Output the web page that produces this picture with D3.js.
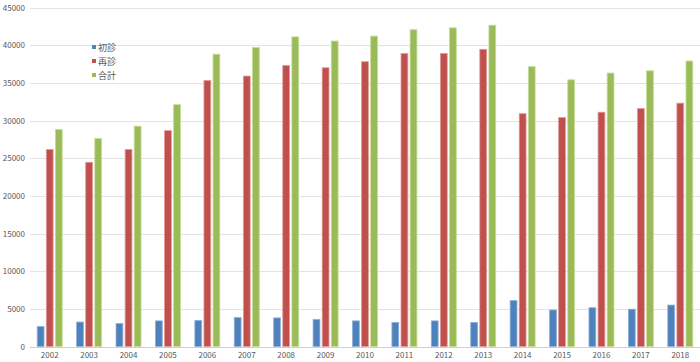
<!DOCTYPE html>
<html>
<head>
<meta charset="utf-8">
<script src="https://cdn.jsdelivr.net/npm/d3@7"></script>
<style>
  body { margin: 0; background: #fff; }
  text { font-family: "Noto Sans CJK JP", "Noto Sans", sans-serif; fill: #595959; }
</style>
</head>
<body>
<svg id="chart" width="700" height="362"></svg>
<script>
const years = ["2002","2003","2004","2005","2006","2007","2008","2009","2010","2011","2012","2013","2014","2015","2016","2017","2018"];
const seriesNames = ["初診", "再診", "合計"];
const firstVisit = [2650, 3250, 3050, 3400, 3450, 3850, 3800, 3600, 3400, 3200, 3400, 3200, 6100, 4850, 5150, 4950, 5500];
const revisit = [26150, 24450, 26150, 28650, 35300, 35900, 37300, 37000, 37800, 38900, 38900, 39450, 30900, 30400, 31100, 31600, 32300];
const total = [28800, 27600, 29250, 32100, 38800, 39700, 41100, 40550, 41200, 42050, 42300, 42650, 37150, 35400, 36300, 36600, 37900];
const yTicks = [0, 5000, 10000, 15000, 20000, 25000, 30000, 35000, 40000, 45000];
const colors = ["#4f81bd", "#c0504d", "#9bbb59"];
const strokes = ["#8fb0d9", "#e09a98", "#c6dc9b"];

const values = [firstVisit, revisit, total];
const data = years.map((y, i) => ({ year: y, vals: values.map(v => v[i]) }));

const svg = d3.select("#chart");

const x0 = d3.scaleBand().domain(years).range([30, 700]).padding(0);
const x1 = d3.scaleBand().domain(d3.range(3)).range([-12.5, 12.5]).paddingInner(0.25);
const y = d3.scaleLinear().domain([0, 45000]).range([346.5, 7.5]);

// gridlines
svg.append("g")
  .selectAll("line")
  .data(yTicks)
  .join("line")
  .attr("x1", 30)
  .attr("x2", 700)
  .attr("y1", d => Math.round(y(d)) + 0.5)
  .attr("y2", d => Math.round(y(d)) + 0.5)
  .attr("stroke", d => d === 0 ? "#d0d0d0" : "#e3e3e3")
  .attr("stroke-width", 1);

// y labels
svg.append("g")
  .selectAll("text")
  .data(yTicks)
  .join("text")
  .attr("x", 25)
  .attr("y", d => y(d) + 3)
  .attr("text-anchor", "end")
  .style("font-size", "8px")
  .text(d => d);

// bars
const groups = svg.append("g")
  .selectAll("g")
  .data(data)
  .join("g")
  .attr("transform", d => `translate(${x0(d.year) + x0.bandwidth() / 2},0)`);

groups.selectAll("rect")
  .data(d => d.vals.map((v, k) => ({ k, v })))
  .join("rect")
  .attr("x", d => x1(d.k))
  .attr("width", x1.bandwidth())
  .attr("y", d => y(d.v))
  .attr("height", d => y(0) - y(d.v))
  .attr("fill", d => colors[d.k])
  .attr("stroke", d => strokes[d.k])
  .attr("stroke-width", 0.8);

// x labels
svg.append("g")
  .selectAll("text")
  .data(years)
  .join("text")
  .attr("x", d => x0(d) + x0.bandwidth() / 2)
  .attr("y", 358)
  .attr("text-anchor", "middle")
  .style("font-size", "8px")
  .text(d => d);

// legend
const legend = svg.append("g").attr("transform", "translate(92,48)");
seriesNames.forEach((name, i) => {
  legend.append("rect")
    .attr("x", 0)
    .attr("y", i * 14 - 3)
    .attr("width", 4)
    .attr("height", 4)
    .attr("fill", colors[i]);
  legend.append("text")
    .attr("x", 6)
    .attr("y", i * 14 + 2.5)
    .style("font-size", "9px")
    .text(name);
});
</script>
</body>
</html>
